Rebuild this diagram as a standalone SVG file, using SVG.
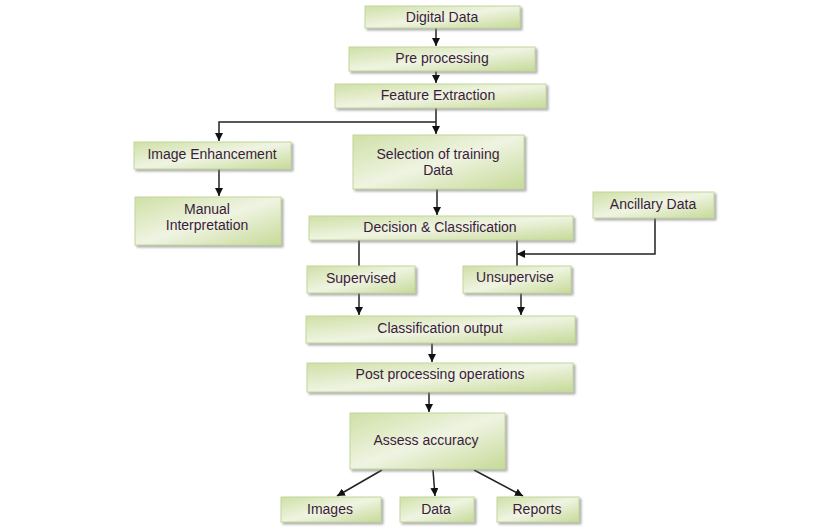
<svg xmlns="http://www.w3.org/2000/svg" width="815" height="531" viewBox="0 0 815 531">
<defs>
<linearGradient id="g" x1="0" y1="0" x2="1" y2="1">
<stop offset="0" stop-color="#cfe0a6"/>
<stop offset="0.5" stop-color="#eff4e2"/>
<stop offset="1" stop-color="#c6da98"/>
</linearGradient>
<filter id="sh" x="-10%" y="-10%" width="130%" height="140%">
<feDropShadow dx="2" dy="2" stdDeviation="1" flood-color="#777" flood-opacity="0.6"/>
</filter>
<marker id="ah" viewBox="0 0 10 10" refX="10" refY="5" markerWidth="8" markerHeight="8" markerUnits="userSpaceOnUse" orient="auto">
<path d="M0,0 L10,5 L0,10 z" fill="#111"/>
</marker>
</defs>
<style>
.box{fill:url(#g);stroke:#c2d69a;stroke-width:1;filter:url(#sh)}
.t{font-family:"Liberation Sans",Arial,sans-serif;font-size:14px;fill:#3a1c3c;text-anchor:middle}
.c{stroke:#222;stroke-width:1.5;fill:none}
.a{marker-end:url(#ah)}
</style>
<rect width="815" height="531" fill="#fff"/>
<g id="connectors">
<path class="c a" d="M436,28 V46"/>
<path class="c a" d="M436,71 V83"/>
<path class="c" d="M436,108 V122"/>
<path class="c a" d="M436,122 V134"/>
<path class="c a" d="M436,122 H219 V141"/>
<path class="c a" d="M219,169 V196"/>
<path class="c a" d="M437,189 V215"/>
<path class="c" d="M359,240 V266"/>
<path class="c" d="M517,240 V266"/>
<path class="c a" d="M655,218 V254 H517"/>
<path class="c a" d="M359,293 V315"/>
<path class="c a" d="M521,293 V315"/>
<path class="c a" d="M432,343 V362"/>
<path class="c a" d="M429,392 V412"/>
<path class="c a" d="M382,470 L337,496"/>
<path class="c a" d="M433,470 L435,496"/>
<path class="c a" d="M474,470 L523,496"/>
</g>
<g id="digital-data"><rect class="box" x="365" y="6" width="155" height="22"/><text class="t" x="442" y="22">Digital Data</text></g>
<g id="pre-processing"><rect class="box" x="349" y="47" width="186" height="24"/><text class="t" x="442" y="63">Pre processing</text></g>
<g id="feature-extraction"><rect class="box" x="335" y="84" width="211" height="24"/><text class="t" x="438" y="100">Feature Extraction</text></g>
<g id="image-enhancement"><rect class="box" x="134" y="142" width="157" height="27"/><text class="t" x="212" y="159">Image Enhancement</text></g>
<g id="selection"><rect class="box" x="353" y="135" width="171" height="54"/><text class="t" x="438" y="159">Selection of training</text><text class="t" x="438" y="175">Data</text></g>
<g id="manual-interpretation"><rect class="box" x="135" y="197" width="146" height="48"/><text class="t" x="207" y="214">Manual</text><text class="t" x="207" y="230">Interpretation</text></g>
<g id="ancillary-data"><rect class="box" x="593" y="192" width="121" height="26"/><text class="t" x="653" y="209">Ancillary Data</text></g>
<g id="decision-classification"><rect class="box" x="309" y="216" width="264" height="24"/><text class="t" x="440" y="232">Decision &amp; Classification</text></g>
<g id="supervised"><rect class="box" x="307" y="266" width="108" height="27"/><text class="t" x="361" y="283">Supervised</text></g>
<g id="unsupervise"><rect class="box" x="463" y="266" width="108" height="27"/><text class="t" x="515" y="282">Unsupervise</text></g>
<g id="classification-output"><rect class="box" x="306" y="316" width="269" height="27"/><text class="t" x="440" y="333">Classification output</text></g>
<g id="post-processing"><rect class="box" x="307" y="363" width="266" height="29"/><text class="t" x="440" y="379">Post processing operations</text></g>
<g id="assess-accuracy"><rect class="box" x="350" y="413" width="155" height="56"/><text class="t" x="426" y="445">Assess accuracy</text></g>
<g id="images"><rect class="box" x="281" y="497" width="100" height="25"/><text class="t" x="330" y="514">Images</text></g>
<g id="data"><rect class="box" x="400" y="497" width="74" height="25"/><text class="t" x="436" y="514">Data</text></g>
<g id="reports"><rect class="box" x="497" y="497" width="82" height="25"/><text class="t" x="537" y="514">Reports</text></g>
</svg>
